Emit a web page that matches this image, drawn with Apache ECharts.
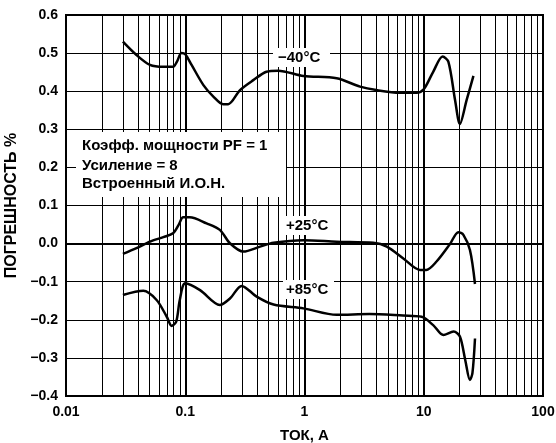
<!DOCTYPE html>
<html>
<head>
<meta charset="utf-8">
<script src="https://cdn.jsdelivr.net/npm/echarts@6/dist/echarts.min.js"></script>
<style>
  html, body { margin: 0; padding: 0; background: #fff; }
  #chart { width: 556px; height: 443px; }
</style>
</head>
<body>
<div id="chart"></div>
<script>
// данные: ток (А) и погрешность (%)
var curveM40 = [
  [0.030, 0.530], [0.039, 0.495], [0.0506, 0.469], [0.0655, 0.464], [0.079, 0.464],
  [0.085, 0.477], [0.093, 0.500], [0.100, 0.497], [0.113, 0.469], [0.142, 0.416],
  [0.172, 0.386], [0.208, 0.366], [0.229, 0.366], [0.288, 0.403], [0.372, 0.429],
  [0.48, 0.451], [0.60, 0.454], [0.98, 0.440], [1.86, 0.434], [2.92, 0.412],
  [4.0, 0.403], [6.3, 0.396], [8.7, 0.396], [10.0, 0.405], [12.0, 0.451],
  [14.4, 0.491], [16.1, 0.477], [18.3, 0.377], [20.1, 0.314], [22.9, 0.377],
  [26.1, 0.440]
];
var curveP25 = [
  [0.030, -0.027], [0.039, -0.012], [0.0506, 0.005], [0.0655, 0.017], [0.079, 0.027],
  [0.088, 0.049], [0.096, 0.069], [0.109, 0.069], [0.151, 0.053], [0.195, 0.036],
  [0.237, 0.001], [0.307, -0.021], [0.424, -0.008], [0.55, 0.002], [0.98, 0.009],
  [1.86, 0.005], [3.78, 0.002], [4.9, -0.008], [6.74, -0.039], [9.3, -0.069],
  [10.5, -0.069], [12.8, -0.047], [16.6, -0.001], [19.5, 0.030], [21.5, 0.023],
  [24.4, -0.017], [26.9, -0.106]
];
var curveP85 = [
  [0.030, -0.135], [0.0445, -0.124], [0.0575, -0.148], [0.070, -0.192], [0.077, -0.216],
  [0.084, -0.205], [0.090, -0.148], [0.100, -0.104], [0.133, -0.122], [0.195, -0.161],
  [0.237, -0.144], [0.297, -0.111], [0.397, -0.139], [0.55, -0.160], [0.98, -0.170],
  [1.86, -0.187], [3.5, -0.185], [6.7, -0.189], [9.6, -0.192], [12.0, -0.214],
  [14.6, -0.240], [17.8, -0.231], [20.1, -0.244], [22.3, -0.306], [24.4, -0.358],
  [25.6, -0.340], [26.9, -0.249]
];
var minorGrid = [
  0.02, 0.03, 0.04, 0.05, 0.06, 0.07, 0.08, 0.09,
  0.2, 0.3, 0.4, 0.5, 0.6, 0.7, 0.8, 0.9,
  2, 3, 4, 5, 6, 7, 8, 9,
  20, 30, 40, 50, 60, 70, 80, 90
];
var boxLines = ['Коэфф. мощности PF = 1', 'Усиление = 8', 'Встроенный И.О.Н.'];

var font = '"Liberation Sans", Arial, sans-serif';
var myChart = echarts.init(document.getElementById('chart'));

function curve(name, data, withGrid) {
  var s = {
    name: name,
    type: 'line',
    data: data,
    smooth: 0.3,
    symbol: 'none',
    silent: true,
    z: 5,
    lineStyle: { color: '#000', width: 2.5 }
  };
  if (withGrid) {
    s.markLine = {
      silent: true,
      symbol: 'none',
      label: { show: false },
      animation: false,
      z: 1,
      lineStyle: { color: '#000', width: 1, type: 'solid' },
      data: minorGrid.map(function (v) { return { xAxis: v }; })
    };
  }
  return s;
}

function labelBox(x, y, w, h, tx, txt) {
  return [
    { type: 'rect', left: x, top: y, z: 50, shape: { width: w, height: h }, style: { fill: '#fff' } },
    { type: 'text', left: tx, top: y + 2, z: 51,
      style: { text: txt, fill: '#000', font: 'bold 15px ' + font } }
  ];
}

var graphics = [
  { type: 'rect', left: 76, top: 132, z: 50, shape: { width: 210, height: 65 }, style: { fill: '#fff' } }
];
var boxY = [138, 158, 176];
boxLines.forEach(function (t, i) {
  graphics.push({ type: 'text', left: 82, top: boxY[i], z: 51,
    style: { text: t, fill: '#000', font: 'bold 15px ' + font } });
});
graphics = graphics
  .concat(labelBox(273, 48, 57, 19, 278, '\u221240°C'))
  .concat(labelBox(283, 216, 51, 19, 286, '+25°C'))
  .concat(labelBox(283, 280, 51, 19, 286, '+85°C'));

var option = {
  animation: false,
  backgroundColor: '#fff',
  grid: {
    left: 66, right: 13, top: 15, bottom: 47,
    outerBoundsMode: 'none',
    containLabel: false,
    show: true, borderColor: '#000', borderWidth: 2, backgroundColor: 'transparent'
  },
  xAxis: {
    type: 'log',
    logBase: 10,
    min: 0.01,
    max: 100,
    name: 'ТОК, А',
    nameLocation: 'middle',
    nameGap: 32,
    nameTextStyle: { color: '#000', fontFamily: font, fontWeight: 'bold', fontSize: 15 },
    axisLine: { show: true, lineStyle: { color: '#000', width: 2 } },
    axisTick: { show: false },
    axisLabel: {
      color: '#000', fontFamily: font, fontWeight: 'bold', fontSize: 14, margin: 9,
      formatter: function (v) { return String(+(+v).toPrecision(3)); }
    },
    splitLine: { show: true, lineStyle: { color: '#000', width: 2 } }
  },
  yAxis: {
    type: 'value',
    min: -0.4,
    max: 0.6,
    interval: 0.1,
    name: 'ПОГРЕШНОСТЬ %',
    nameLocation: 'middle',
    nameGap: 39,
    nameTextStyle: { color: '#000', fontFamily: font, fontWeight: 'bold', fontSize: 16 },
    axisLine: { show: true, lineStyle: { color: '#000', width: 2 } },
    axisTick: { show: false },
    axisLabel: {
      color: '#000', fontFamily: font, fontWeight: 'bold', fontSize: 14, margin: 8,
      formatter: function (v) {
        var s = Math.abs(v).toFixed(1);
        return v < -1e-9 ? '\u2212' + s : s;
      }
    },
    splitLine: { show: true, lineStyle: { color: '#000', width: 1 } }
  },
  graphic: graphics,
  series: [
    curve('-40°C', curveM40, true),
    curve('+25°C', curveP25, false),
    curve('+85°C', curveP85, false)
  ]
};

myChart.setOption(option);
</script>
</body>
</html>
